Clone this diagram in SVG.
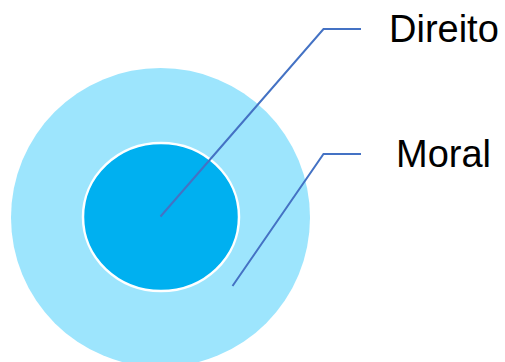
<svg xmlns="http://www.w3.org/2000/svg" width="505" height="362" viewBox="0 0 505 362">
<style>
.lbl{font-family:"Liberation Sans",Arial,sans-serif;font-size:38px;fill:#000}
.conn{fill:none;stroke:#4472C4;stroke-width:2}
</style>
<rect width="505" height="362" fill="#fff"/>
<g id="moral"><circle cx="160.5" cy="217.5" r="149.5" fill="#9DE5FD"/></g>
<g id="direito"><ellipse cx="161" cy="217" rx="78" ry="74" fill="#00B0F0" stroke="#fff" stroke-width="2.5"/></g>
<g id="connectors">
<polyline class="conn" points="160.5,216.5 323.5,29 361,29"/>
<polyline class="conn" points="232.5,286 323.5,154 361,154"/>
</g>
<g id="label-direito"><text class="lbl" x="389" y="41.5">Direito</text></g>
<g id="label-moral"><text class="lbl" x="396" y="166.5">Moral</text></g>
</svg>
